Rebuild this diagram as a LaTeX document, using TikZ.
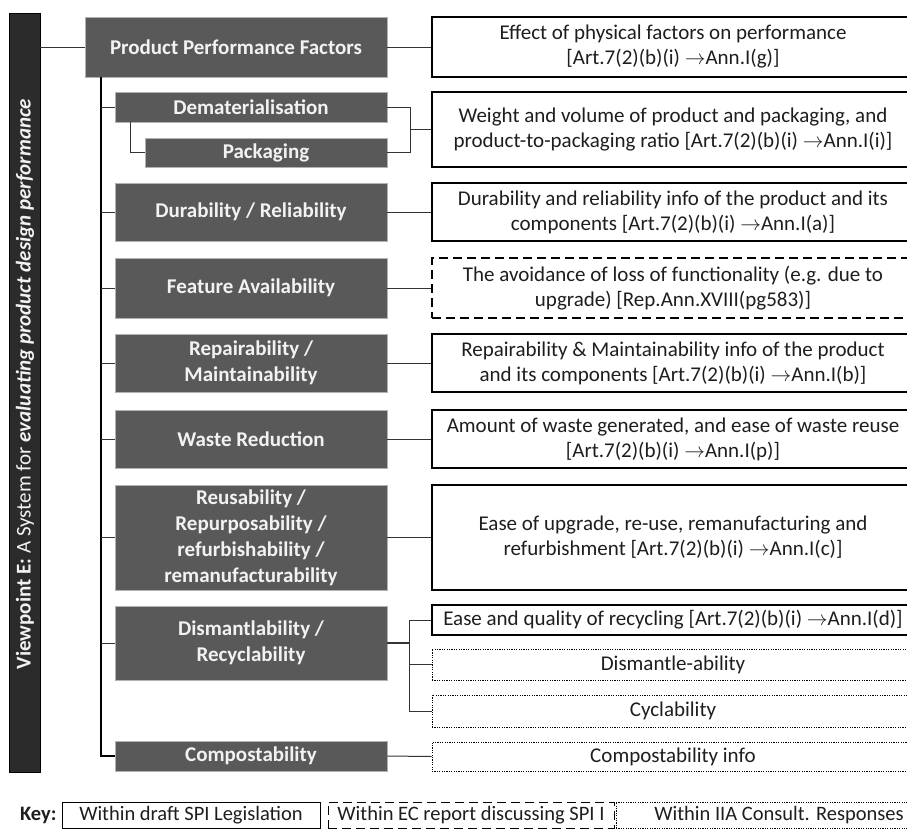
\documentclass[tikz,border=0pt]{standalone}
\usepackage{fontspec}
\setmainfont{Carlito}
\usetikzlibrary{calc}
\definecolor{boxgray}{HTML}{595959}
\definecolor{bardark}{HTML}{2B2B2B}
\definecolor{txtlight}{HTML}{F2F2F2}
\definecolor{linegray}{HTML}{333333}
\definecolor{txtdark}{HTML}{1E1E1E}
\newcommand{\arr}{$\rightarrow$}
\tikzset{
  gbox/.style={fill=boxgray, draw=gray!60, line width=0.6pt, text=txtlight, align=center,
    font=\fontsize{21}{26}\selectfont\bfseries, inner sep=1pt},
  infobox/.style={draw=black, line width=1.3pt, fill=white, align=center, text=txtdark,
    font=\fontsize{21}{25}\selectfont, inner sep=1pt, minimum width=482pt},
  reportbox/.style={infobox, dash pattern=on 9pt off 5pt},
  consultbox/.style={infobox, line width=1pt, dash pattern=on 1.2pt off 1.2pt},
  conn/.style={draw=linegray, line width=1pt},
  trunk/.style={draw=black, line width=2pt},
  keybox/.style={draw=black, line width=1pt, fill=white, text=txtdark,
    font=\fontsize{20.5}{24}\selectfont, minimum height=26pt, inner sep=1pt},
}
\begin{document}
\begin{tikzpicture}[x=1pt,y=-1pt]
\useasboundingbox (0,0) rectangle (907,830);

% side bar with the viewpoint title
\node[fill=bardark, draw=black, line width=0.8pt, minimum width=31pt, minimum height=759pt, inner sep=0pt] (bar) at (24.5,392.5) {};
\node[rotate=90, text=txtlight, font=\fontsize{21}{24}\selectfont] (bartitle) at (25,384)
  {{\bfseries Viewpoint E:} A System for {\bfseries\itshape evaluating product design performance}};

% performance factors (left column)
\node[gbox, minimum width=302pt, minimum height=60pt] (ppf) at (236,47) {Product Performance Factors};
\node[gbox, minimum width=272pt, minimum height=30pt] (dem) at (251,107) {Dematerialisation};
\node[gbox, minimum width=242pt, minimum height=29pt] (pack) at (266,152.5) {Packaging};
\node[gbox, minimum width=272pt, minimum height=58pt] (dur) at (251,212) {Durability / Reliability};
\node[gbox, minimum width=272pt, minimum height=60pt] (feat) at (251,288) {Feature Availability};
\node[gbox, minimum width=272pt, minimum height=58pt] (rep) at (251,363) {Repairability /\\Maintainability};
\node[gbox, minimum width=272pt, minimum height=58pt] (waste) at (251,439) {Waste Reduction};
\node[gbox, minimum width=272pt, minimum height=105pt] (reuse) at (251,537.5) {Reusability /\\Repurposability /\\refurbishability /\\remanufacturability};
\node[gbox, minimum width=272pt, minimum height=74pt] (dism) at (251,643) {Dismantlability /\\Recyclability};
\node[gbox, minimum width=272pt, minimum height=30pt] (comp) at (251,756) {Compostability};

% sources (right column)
\node[infobox, minimum height=60pt] (r1) at (673,47) {Effect of physical factors on performance\\{}[Art.7(2)(b)(i) \arr Ann.I(g)]};
\node[infobox, minimum height=75pt] (r2) at (673,129.5) {Weight and volume of product and packaging, and\\product-to-packaging ratio [Art.7(2)(b)(i) \arr Ann.I(i)]};
\node[infobox, minimum height=58pt] (r3) at (673,212) {Durability and reliability info of the product and its\\components [Art.7(2)(b)(i) \arr Ann.I(a)]};
\node[reportbox, minimum height=60pt] (r4) at (673,288) {The avoidance of loss of functionality (e.g. due to\\upgrade) [Rep.Ann.XVIII(pg583)]};
\node[infobox, minimum height=58pt] (r5) at (673,363) {Repairability \& Maintainability info of the product\\and its components [Art.7(2)(b)(i) \arr Ann.I(b)]};
\node[infobox, minimum height=58pt] (r6) at (673,439) {Amount of waste generated, and ease of waste reuse\\{}[Art.7(2)(b)(i) \arr Ann.I(p)]};
\node[infobox, minimum height=105pt] (r7) at (673,537.5) {Ease of upgrade, re-use, remanufacturing and\\refurbishment [Art.7(2)(b)(i) \arr Ann.I(c)]};
\node[infobox, minimum height=30pt] (r8) at (673,620) {Ease and quality of recycling [Art.7(2)(b)(i) \arr Ann.I(d)]};
\node[consultbox, minimum height=31pt] (r9) at (673,664.5) {Dismantle-ability};
\node[consultbox, minimum height=32pt] (r10) at (673,711) {Cyclability};
\node[consultbox, minimum height=29pt] (r11) at (673,756.5) {Compostability info};

% junction points
\coordinate (t0) at (101,77);
\coordinate (dd) at (130,122);
\coordinate (pj) at (410,107);
\coordinate (dj) at (409,643);

% connectors
\draw[conn] (bar.east |- ppf.west) -- (ppf.west);
\draw[conn] (ppf.east) -- (r1.west);
\draw[trunk] (t0) -- (t0 |- comp.west) -- (comp.west);
\foreach \n in {dem,dur,feat,rep,waste,reuse,dism}
  \draw[conn] (t0 |- \n.west) -- (\n.west);
\draw[conn] (dd) -- (dd |- pack.west) -- (pack.west);
\draw[conn] (dem.east) -- (pj) -- (pj |- pack.east) -- (pack.east);
\draw[conn] (pj |- r2.west) -- (r2.west);
\foreach \a/\b in {dur/r3,feat/r4,rep/r5,waste/r6,reuse/r7,comp/r11}
  \draw[conn] (\a.east) -- (\b.west);
\draw[conn, line width=1.6pt] (dism.east) -- (dj);
\draw[conn] (dj |- r8.west) -- (dj |- r10.west);
\foreach \n in {r8,r9,r10}
  \draw[conn] (dj |- \n.west) -- (\n.west);

% key
\node[font=\fontsize{20.5}{24}\selectfont\bfseries, anchor=east, text=txtdark] (keylbl) at (60,815) {Key:};
\node[keybox, minimum width=258pt] (k1) at (191,815) {Within draft SPI Legislation};
\node[keybox, minimum width=286pt, dash pattern=on 9pt off 5pt] (k2) at (471,815) {Within EC report discussing SPI I};
\node[keybox, minimum width=326pt, dash pattern=on 1.2pt off 1.2pt] (k3) at (779,815) {Within IIA Consult. Responses};
\end{tikzpicture}
\end{document}
